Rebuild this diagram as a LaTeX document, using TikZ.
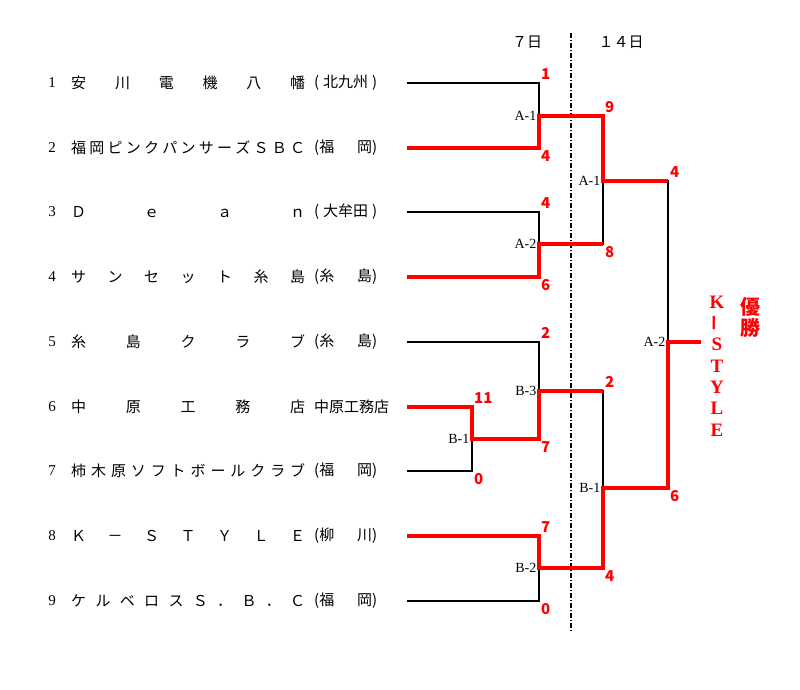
\documentclass[tikz,border=0pt]{standalone}
\usepackage{fontspec}
\usepackage{graphicx}
\newfontfamily\jp{Noto Sans CJK JP}
\newfontfamily\lat{Liberation Serif}
\begin{document}
\begin{tikzpicture}[x=1pt, y=-1pt,
  lose/.style={line width=2.6pt},
  win/.style={line width=4pt, red},
  num/.style={font=\lat\fontsize{15}{15}\selectfont, inner sep=0pt},
  team/.style={font=\jp\fontsize{15}{15}\selectfont, anchor=west, inner sep=0pt},
  score/.style={text=red, font=\jp\bfseries\fontsize{15}{15}\selectfont, inner sep=1pt},
  sctop/.style={score, anchor=south west, xshift=1pt, yshift=2pt},
  scbot/.style={score, anchor=north west, xshift=1pt, yshift=-1pt},
  match/.style={font=\lat\fontsize{14}{14}\selectfont, anchor=east, inner sep=2.5pt},
  champ/.style={text=red, font=\lat\bfseries\fontsize{19}{19}\selectfont, inner sep=0pt}]
\useasboundingbox (0,0) rectangle (800,690);
% teams
\foreach \n/\yy/\name/\area in {
  1/83/{安\hfill 川\hfill 電\hfill 機\hfill 八\hfill 幡}/{(\hfill 北九州\hfill )},
  2/148/{福\hfill 岡\hfill ピ\hfill ン\hfill ク\hfill パ\hfill ン\hfill サ\hfill ー\hfill ズ\hfill Ｓ\hfill Ｂ\hfill Ｃ}/{(福\hfill 岡)},
  3/212/{Ｄ\hfill ｅ\hfill ａ\hfill ｎ}/{(\hfill 大牟田\hfill )},
  4/277/{サ\hfill ン\hfill セ\hfill ッ\hfill ト\hfill 糸\hfill 島}/{(糸\hfill 島)},
  5/342/{糸\hfill 島\hfill ク\hfill ラ\hfill ブ}/{(糸\hfill 島)},
  6/407/{中\hfill 原\hfill 工\hfill 務\hfill 店}/{中原工務店\hss},
  7/471/{柿\hfill 木\hfill 原\hfill ソ\hfill フ\hfill ト\hfill ボ\hfill ー\hfill ル\hfill ク\hfill ラ\hfill ブ}/{(福\hfill 岡)},
  8/536/{Ｋ\hfill －\hfill Ｓ\hfill Ｔ\hfill Ｙ\hfill Ｌ\hfill Ｅ}/{(柳\hfill 川)},
  9/601/{ケ\hfill ル\hfill ベ\hfill ロ\hfill ス\hfill Ｓ\hfill ．\hfill Ｂ\hfill ．\hfill Ｃ}/{(福\hfill 岡)}}
{
  \node[num] (n\n) at (52,\yy) {\n};
  \node[team] (name\n) at (71,\yy) {\hbox to 234pt{\name}};
  \node[team] (area\n) at (314,\yy) {\hbox to 63pt{\area}};
  \coordinate (t\n) at (407,\yy);
}
% days
\node[team, anchor=center] (day1) at (527,42) {７日};
\node[team, anchor=center] (day2) at (621,42) {１４日};
\coordinate (dtop) at (571,33);
\coordinate (dbot) at (571,632);
\draw[dash pattern=on 5pt off 2pt on 1pt off 2pt, line width=1.2pt] (dtop) -- (dbot);
% junctions
\coordinate (a1) at (539,116);
\coordinate (a2) at (539,244);
\coordinate (b1) at (472,439);
\coordinate (b3) at (539,391);
\coordinate (b2) at (539,568);
\coordinate (sa1) at (603,181);
\coordinate (sb1) at (603,488);
\coordinate (fin) at (668,342);
\coordinate (top) at (701,342);
\begin{scope}[lose]
\draw (t1) -| (a1);
\draw (t3) -| (a2);
\draw (t5) -| (b3);
\draw (t7) -| (b1);
\draw (t9) -| (b2);
\draw (a2) -| (sa1);
\draw (b3) -| (sb1);
\draw (sa1) -| (fin);
\end{scope}
\begin{scope}[win]
\draw (t2) -| (a1) -| (sa1) -- (sa1 -| fin);
\draw (t4) -| (a2) -- (a2 -| sa1);
\draw (t6) -| (b1) -| (b3) -- (b3 -| sb1);
\draw (t8) -| (b2) -| (sb1) -| (fin) -- (top);
\end{scope}
% match numbers
\node[match] (ma1) at (a1) {A-1};
\node[match] (ma2) at (a2) {A-2};
\node[match] (mb1) at (b1) {B-1};
\node[match] (mb3) at (b3) {B-3};
\node[match] (mb2) at (b2) {B-2};
\node[match] (msa1) at (sa1) {A-1};
\node[match] (msb1) at (sb1) {B-1};
\node[match] (mfin) at (fin) {A-2};
% scores
\node[sctop] (s1) at (t1 -| a1) {1};
\node[scbot] (s2) at (t2 -| a1) {4};
\node[sctop] (s3) at (t3 -| a2) {4};
\node[scbot] (s4) at (t4 -| a2) {6};
\node[sctop] (s5) at (t5 -| b3) {2};
\node[sctop] (s6) at (t6 -| b1) {11};
\node[scbot] (s7) at (t7 -| b1) {0};
\node[scbot] (sb1w) at (b1 -| b3) {7};
\node[sctop] (s8) at (t8 -| b2) {7};
\node[scbot] (s9) at (t9 -| b2) {0};
\node[sctop] (sa1w) at (a1 -| sa1) {9};
\node[scbot] (sa2w) at (a2 -| sa1) {8};
\node[sctop] (sb3w) at (b3 -| sb1) {2};
\node[scbot] (sb2w) at (b2 -| sb1) {4};
\node[sctop] (ssa1) at (sa1 -| fin) {4};
\node[scbot] (ssb1) at (sb1 -| fin) {6};
% champion
\foreach \ch [count=\i from 0] in {K,{\jp\rotatebox{90}{－}},S,T,Y,L,E}
  \node[champ] (w\i) at (717,302+21.3*\i) {\ch};
\node[champ, font=\jp\bfseries\fontsize{20}{20}\selectfont] (yu) at (750,307) {優};
\node[champ, font=\jp\bfseries\fontsize{20}{20}\selectfont] (sho) at (750,328) {勝};
\end{tikzpicture}
\end{document}
